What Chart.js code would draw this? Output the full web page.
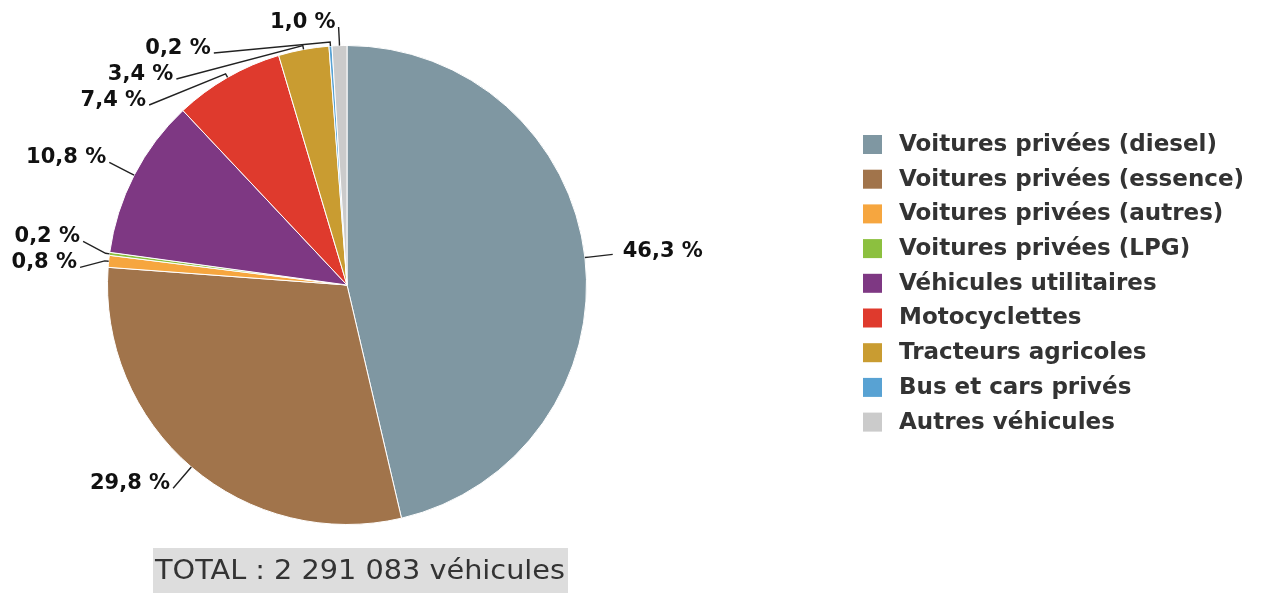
<!DOCTYPE html>
<html lang="fr">
<head>
<meta charset="utf-8">
<script src="https://cdn.jsdelivr.net/npm/chart.js@4.4.0/dist/chart.umd.min.js"></script>
<style>
  html, body { margin: 0; padding: 0; background: #fff; }
  #wrap { width: 1262px; height: 593px; position: relative; }
</style>
</head>
<body>
<div id="wrap"><canvas id="parcChart" width="1262" height="593"></canvas></div>
<script>
// Parc de véhicules : répartition en %
const categories = [
    'Voitures privées (diesel)',
    'Voitures privées (essence)',
    'Voitures privées (autres)',
    'Voitures privées (LPG)',
    'Véhicules utilitaires',
    'Motocyclettes',
    'Tracteurs agricoles',
    'Bus et cars privés',
    'Autres véhicules'
];
const parts = [46.3, 29.8, 0.8, 0.2, 10.8, 7.4, 3.4, 0.2, 1.0];
const sliceColors = ['#7f97a2', '#a1744b', '#f6a63f', '#8cc03f', '#7e3883',
    '#df3a2d', '#c99c31', '#58a2d3', '#cbcbcb'];
const totalText = 'TOTAL : 2 291 083 véhicules';

function formatPct(v) {
    return v.toFixed(1).replace('.', ',') + ' %';
}

// étiquettes autour du camembert avec traits de rappel
const outerLabels = {
    id: 'outerLabels',
    afterDatasetsDraw(chart) {
        const ctx = chart.ctx;
        const arcs = chart.getDatasetMeta(0).data;
        const gap = 26, minY = 27, ext = 28;
        const items = arcs.map((arc, i) => {
            const p = arc.getProps(['x', 'y', 'startAngle', 'endAngle', 'outerRadius'], true);
            const mid = (p.startAngle + p.endAngle) / 2;
            const R = p.outerRadius + ext;
            return {
                i: i, cx: p.x, cy: p.y, r: p.outerRadius, R: R, mid: mid,
                left: Math.cos(mid) < 0,
                x: p.x + Math.cos(mid) * R,
                y: p.y + Math.sin(mid) * R
            };
        });

        [true, false].forEach(side => {
            const list = items.filter(it => it.left === side).sort((a, b) => a.y - b.y);
            list.forEach(it => { it.base = Math.max(it.y, minY); it.y = it.base; });
            for (let k = 0; k < 300; k++) {
                for (let j = 1; j < list.length; j++) {
                    const d = list[j].y - list[j - 1].y;
                    if (d < gap) {
                        const s = (gap - d) / 2;
                        list[j - 1].y -= s;
                        list[j].y += s;
                    }
                }
                list.forEach(it => { if (it.y < minY) it.y = minY; });
            }
            list.forEach(it => {
                if (Math.abs(it.y - it.base) > 2) {
                    const dy = it.y - it.cy;
                    if (Math.abs(dy) < it.R) {
                        const dx = Math.sqrt(it.R * it.R - dy * dy);
                        it.x = it.cx + (side ? -dx : dx);
                    }
                }
            });
        });

        ctx.save();
        ctx.strokeStyle = '#222';
        ctx.lineWidth = 1.4;
        ctx.fillStyle = '#111';
        ctx.font = 'bold 21px "DejaVu Sans"';
        ctx.textBaseline = 'alphabetic';
        items.forEach(it => {
            const ex = it.cx + Math.cos(it.mid) * it.r;
            const ey = it.cy + Math.sin(it.mid) * it.r;
            const kx = it.cx + Math.cos(it.mid) * (it.r + 4);
            const ky = it.cy + Math.sin(it.mid) * (it.r + 4);
            ctx.beginPath();
            ctx.moveTo(ex, ey);
            ctx.lineTo(kx, ky);
            ctx.lineTo(it.x, it.y);
            ctx.stroke();
            const txt = formatPct(parts[it.i]);
            if (it.left) {
                ctx.textAlign = 'right';
                ctx.fillText(txt, it.x - 3, it.y + 1);
            } else {
                ctx.textAlign = 'left';
                ctx.fillText(txt, it.x + 10, it.y + 2.5);
            }
        });
        ctx.restore();
    }
};

// légende à droite
const sideLegend = {
    id: 'sideLegend',
    afterDraw(chart) {
        const ctx = chart.ctx;
        ctx.save();
        ctx.font = 'bold 23px "DejaVu Sans"';
        ctx.textBaseline = 'middle';
        ctx.textAlign = 'left';
        categories.forEach((label, i) => {
            const y0 = 135 + i * 34.7;
            ctx.fillStyle = sliceColors[i];
            ctx.fillRect(863, y0, 19, 19);
            ctx.fillStyle = '#333';
            ctx.fillText(label, 899, y0 + 10);
        });
        ctx.restore();
    }
};

// total en bas
const totalBox = {
    id: 'totalBox',
    afterDraw(chart) {
        const ctx = chart.ctx;
        ctx.save();
        ctx.font = '26px "DejaVu Sans"';
        const w = ctx.measureText(totalText).width;
        const targetW = 410;
        ctx.fillStyle = '#dddddd';
        ctx.fillRect(153, 548, targetW + 5, 45);
        ctx.translate(155, 579);
        ctx.scale(targetW / w, 1);
        ctx.fillStyle = '#333';
        ctx.textBaseline = 'alphabetic';
        ctx.fillText(totalText, 0, 0);
        ctx.restore();
    }
};

const ctx = document.getElementById('parcChart').getContext('2d');
new Chart(ctx, {
    type: 'pie',
    data: {
        labels: categories,
        datasets: [{
            data: parts,
            backgroundColor: sliceColors,
            borderColor: '#ffffff',
            borderWidth: 1
        }]
    },
    options: {
        responsive: false,
        animation: false,
        layout: {
            padding: { left: 107, right: 675, top: 45, bottom: 68 }
        },
        plugins: {
            legend: { display: false },
            tooltip: { enabled: false }
        }
    },
    plugins: [outerLabels, sideLegend, totalBox]
});
</script>
</body>
</html>
